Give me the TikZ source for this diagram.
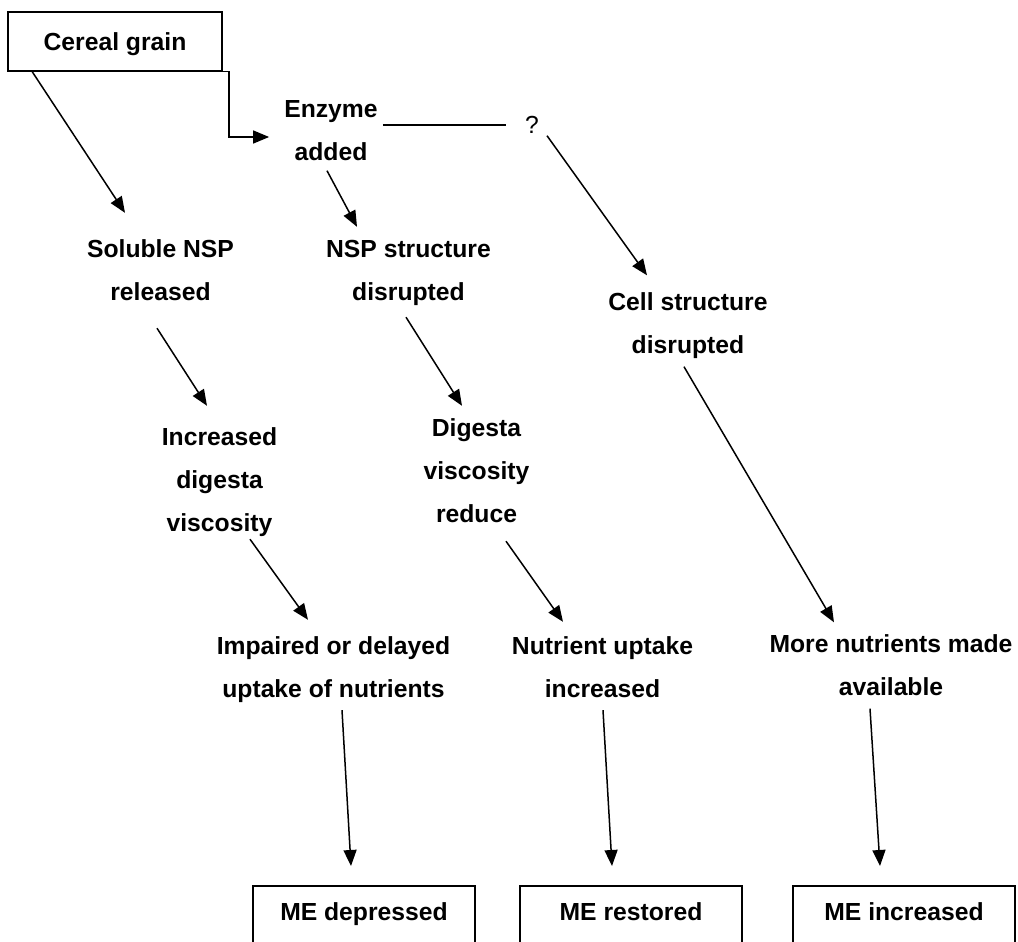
\documentclass[tikz,border=0pt]{standalone}
\usepackage{fontspec}
\setmainfont{Liberation Sans}
\usetikzlibrary{arrows.meta}
\begin{document}
\begin{tikzpicture}[x=1pt,y=-1pt,
  txt/.style={inner sep=0pt,align=center,font=\fontsize{24.7}{43}\selectfont\bfseries},
  qtxt/.style={inner sep=0pt,font=\fontsize{24.7}{43}\selectfont},
  topbox/.style={txt,draw,line width=1.5pt,minimum width=214pt,minimum height=59pt},
  mebox/.style={txt,draw,line width=1.5pt,anchor=north,minimum width=222pt,inner ysep=5pt,text depth=60pt},
  conn/.style={line width=1.5pt},
  arr/.style={conn,-{Triangle[length=16pt,width=13pt]}}]
\useasboundingbox (0,0) rectangle (1018,942);
\clip (0,0) rectangle (1018,942);

\node[topbox] (cereal) at (115,41.5) {\strut Cereal grain};
\node[txt] (enzyme) at (331,130.5) {\strut Enzyme\\\strut added};
\node[qtxt] (q) at (532,125) {\strut ?};
\node[txt] (soluble) at (160.5,270) {\strut Soluble NSP\\\strut released};
\node[txt] (nsp) at (408.5,270) {\strut NSP structure\\\strut disrupted};
\node[txt] (cell) at (688,323.5) {\strut Cell structure\\\strut disrupted};
\node[txt] (increased) at (219.5,479.5) {\strut Increased\\\strut digesta\\\strut viscosity};
\node[txt] (digesta) at (476.5,470.5) {\strut Digesta\\\strut viscosity\\\strut reduce};
\node[txt] (impaired) at (333.5,667) {\strut Impaired or delayed\\\strut uptake of nutrients};
\node[txt] (nutrient) at (602.5,667) {\strut Nutrient uptake\\\strut increased};
\node[txt] (more) at (891,665.5) {\strut More nutrients made\\\strut available};
\node[mebox] (me1) at (364,885) {\strut ME depressed};
\node[mebox] (me2) at (631,885) {\strut ME restored};
\node[mebox] (me3) at (904,885) {\strut ME increased};

\draw[arr] ([xshift=25pt]cereal.south west) -- ([xshift=-35.5pt,yshift=14pt]soluble.north);
\draw[arr] (cereal.south east) -- ++(6,0) |- ([xshift=-15pt,yshift=-6.5pt]enzyme.west);
\draw[conn] ([xshift=5pt,yshift=5.5pt]enzyme.east) -- ([xshift=-19pt]q.west);
\draw[arr] ([xshift=15pt,yshift=11pt]q.south) -- ([xshift=-41pt,yshift=5pt]cell.north);
\draw[arr] ([xshift=-4pt,yshift=3pt]enzyme.south) -- ([xshift=-51.5pt]nsp.north);
\draw[arr] ([xshift=-3.5pt,yshift=-15pt]soluble.south) -- ([xshift=-12.5pt,yshift=9pt]increased.north);
\draw[arr] ([xshift=-2.5pt,yshift=-4pt]nsp.south) -- ([xshift=-14.5pt]digesta.north);
\draw[arr] ([xshift=-4pt]cell.south) -- ([xshift=-57pt]more.north);
\draw[arr] ([xshift=30.5pt,yshift=5pt]increased.south) -- ([xshift=-25.5pt,yshift=4pt]impaired.north);
\draw[arr] ([xshift=29.5pt,yshift=-6pt]digesta.south) -- ([xshift=-39.5pt,yshift=2pt]nutrient.north);
\draw[arr] ([xshift=8.5pt]impaired.south) -- ([xshift=-13pt,yshift=19pt]me1.north);
\draw[arr] ([xshift=0.5pt]nutrient.south) -- ([xshift=-19pt,yshift=19pt]me2.north);
\draw[arr] ([xshift=-21pt]more.south) -- ([xshift=-24pt,yshift=19pt]me3.north);
\end{tikzpicture}
\end{document}
